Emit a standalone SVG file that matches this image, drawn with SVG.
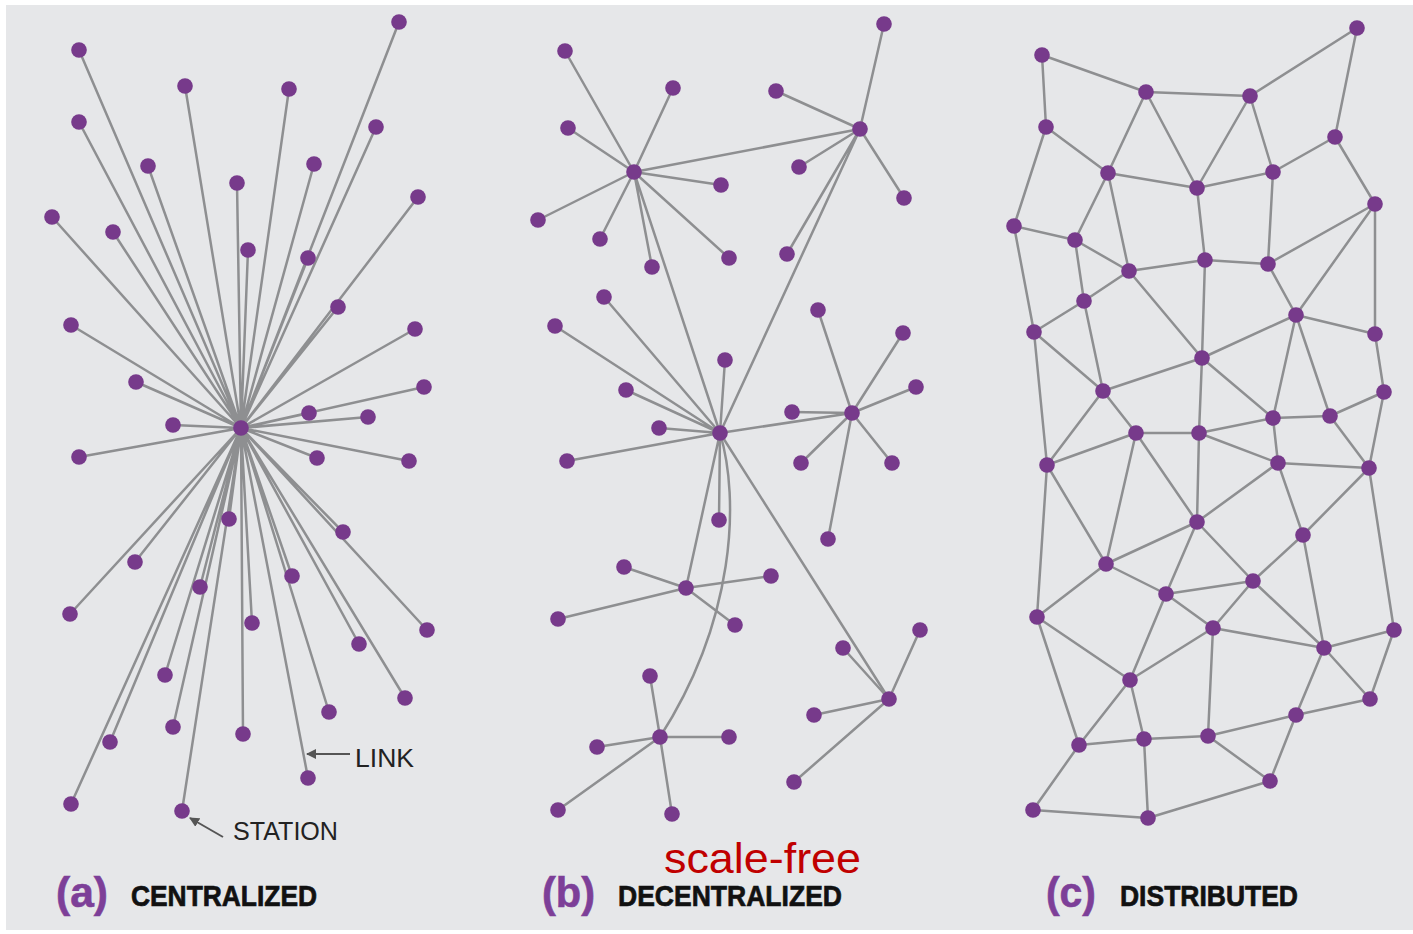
<svg xmlns="http://www.w3.org/2000/svg" width="1413" height="934" viewBox="0 0 1413 934">
<defs>
<style>
.e{stroke:#8e8f91;stroke-width:2.5;fill:none}
.n{fill:#773a8b}
.ann{font-family:"Liberation Sans",Arial,sans-serif;font-size:25px;fill:#222}
.lab{font-family:"Liberation Sans",Arial,sans-serif;font-weight:bold;font-size:30px;fill:#111;stroke:#111;stroke-width:0.7}
.tag{font-family:"Liberation Sans",Arial,sans-serif;font-weight:bold;font-size:42px;fill:#7d3f98;stroke:#7d3f98;stroke-width:0.6}
.sf{font-family:"Liberation Sans",Arial,sans-serif;font-size:42px;fill:#c00000}
.arr{stroke:#555;stroke-width:2;fill:none}
</style>
<marker id="ah" viewBox="0 0 10 10" refX="9" refY="5" markerWidth="5" markerHeight="5" orient="auto" markerUnits="strokeWidth">
<path d="M0,0 L10,5 L0,10 z" fill="#555"/>
</marker>
</defs>
<rect x="0" y="0" width="1413" height="934" fill="#ffffff"/>
<rect x="6" y="5" width="1407" height="925" fill="#e6e7e9"/>

<g id="connectors">
<g id="edges-a">
<path class="e" d="M241,428L79,50M241,428L185,86M241,428L289,89M241,428L399,22M241,428L79,122M241,428L376,127M241,428L148,166M241,428L314,164M241,428L237,183M241,428L418,197M241,428L52,217M241,428L113,232M241,428L248,250M241,428L308,258M241,428L338,307M241,428L71,325M241,428L415,329M241,428L136,382M241,428L424,387M241,428L309,413M241,428L368,417M241,428L173,425M241,428L79,457M241,428L317,458M241,428L409,461M241,428L229,519M241,428L343,532M241,428L135,562M241,428L292,576M241,428L200,587M241,428L70,614M241,428L427,630M241,428L359,644M241,428L252,623M241,428L165,675M241,428L405,698M241,428L329,712M241,428L173,727M241,428L243,734M241,428L110,742M241,428L308,778M241,428L71,804M241,428L182,811"/>
</g>
<g id="edges-b">
<path class="e" d="M634,172L565,51M634,172L673,88M634,172L568,128M634,172L721,185M634,172L538,220M634,172L600,239M634,172L652,267M634,172L729,258M634,172L860,129M634,172L720,433"/>
<path class="e" d="M860,129L884,24M860,129L776,91M860,129L799,167M860,129L904,198M860,129L787,254M860,129L720,433"/>
<path class="e" d="M720,433L604,297M720,433L555,326M720,433L725,360M720,433L626,390M720,433L659,428M720,433L567,461M720,433L852,413M720,433L719,520M720,433L686,588M720,433L889,699"/>
<path class="e" d="M852,413L818,310M852,413L903,333M852,413L916,387M852,413L792,412M852,413L801,463M852,413L892,463M852,413L828,539"/>
<path class="e" d="M686,588L624,567M686,588L771,576M686,588L558,619M686,588L735,625"/>
<path class="e" d="M720,433C740,500 735,620 660,737"/>
<path class="e" d="M660,737L650,676M660,737L729,737M660,737L597,747M660,737L558,810M660,737L672,814"/>
<path class="e" d="M889,699L920,630M889,699L843,648M889,699L814,715M889,699L794,782"/>
</g>
<g id="edges-c">
<path class="e" d="M1042,55L1146,92M1042,55L1046,127M1146,92L1250,96M1250,96L1357,28M1357,28L1335,137M1146,92L1108,173M1146,92L1197,188M1250,96L1197,188M1250,96L1273,172M1046,127L1108,173M1046,127L1014,226M1108,173L1197,188M1197,188L1273,172M1335,137L1273,172M1335,137L1375,204M1108,173L1075,240M1108,173L1129,271M1197,188L1205,260M1273,172L1268,264M1014,226L1075,240M1014,226L1034,332M1075,240L1129,271M1075,240L1084,301M1129,271L1205,260M1205,260L1268,264M1268,264L1375,204M1375,204L1296,315M1375,204L1375,334M1268,264L1296,315M1129,271L1084,301M1129,271L1202,358M1205,260L1202,358M1084,301L1034,332M1084,301L1103,391M1034,332L1103,391M1034,332L1047,465M1296,315L1202,358M1296,315L1375,334M1296,315L1273,418M1296,315L1330,416M1375,334L1384,392M1384,392L1330,416M1384,392L1369,468M1330,416L1369,468M1273,418L1330,416M1273,418L1278,463M1202,358L1273,418M1202,358L1103,391M1202,358L1199,433M1103,391L1136,433M1103,391L1047,465M1136,433L1199,433M1136,433L1047,465M1199,433L1273,418M1199,433L1278,463M1278,463L1369,468"/>
<path class="e" d="M1199,433L1197,522M1136,433L1106,564M1136,433L1197,522M1278,463L1197,522M1278,463L1303,535M1369,468L1303,535M1369,468L1394,630M1047,465L1106,564M1047,465L1037,617M1197,522L1106,564M1197,522L1166,594M1197,522L1253,581M1303,535L1253,581M1303,535L1324,648M1106,564L1166,594M1106,564L1037,617M1253,581L1166,594M1253,581L1213,628M1253,581L1324,648M1166,594L1213,628M1166,594L1130,680M1037,617L1130,680M1037,617L1079,745M1213,628L1130,680M1213,628L1324,648M1213,628L1208,736M1324,648L1394,630M1324,648L1370,699M1324,648L1296,715M1394,630L1370,699M1130,680L1079,745M1130,680L1144,739M1370,699L1296,715M1296,715L1208,736M1296,715L1270,781M1079,745L1144,739M1079,745L1033,810M1144,739L1208,736M1144,739L1148,818M1208,736L1270,781M1033,810L1148,818M1148,818L1270,781"/>
</g>
<line class="arr" x1="350" y1="754" x2="307" y2="754" marker-end="url(#ah)"/>
<line class="arr" x1="223" y1="837" x2="190" y2="818" marker-end="url(#ah)"/>
</g>

<g id="nodes-a">
<circle class="n" cx="241" cy="428" r="7.8"/>
<circle class="n" cx="79" cy="50" r="7.8"/><circle class="n" cx="185" cy="86" r="7.8"/><circle class="n" cx="289" cy="89" r="7.8"/><circle class="n" cx="399" cy="22" r="7.8"/><circle class="n" cx="79" cy="122" r="7.8"/><circle class="n" cx="376" cy="127" r="7.8"/><circle class="n" cx="148" cy="166" r="7.8"/><circle class="n" cx="314" cy="164" r="7.8"/><circle class="n" cx="237" cy="183" r="7.8"/><circle class="n" cx="418" cy="197" r="7.8"/><circle class="n" cx="52" cy="217" r="7.8"/><circle class="n" cx="113" cy="232" r="7.8"/><circle class="n" cx="248" cy="250" r="7.8"/><circle class="n" cx="308" cy="258" r="7.8"/><circle class="n" cx="338" cy="307" r="7.8"/><circle class="n" cx="71" cy="325" r="7.8"/><circle class="n" cx="415" cy="329" r="7.8"/><circle class="n" cx="136" cy="382" r="7.8"/><circle class="n" cx="424" cy="387" r="7.8"/><circle class="n" cx="309" cy="413" r="7.8"/><circle class="n" cx="368" cy="417" r="7.8"/><circle class="n" cx="173" cy="425" r="7.8"/><circle class="n" cx="79" cy="457" r="7.8"/><circle class="n" cx="317" cy="458" r="7.8"/><circle class="n" cx="409" cy="461" r="7.8"/><circle class="n" cx="229" cy="519" r="7.8"/><circle class="n" cx="343" cy="532" r="7.8"/><circle class="n" cx="135" cy="562" r="7.8"/><circle class="n" cx="292" cy="576" r="7.8"/><circle class="n" cx="200" cy="587" r="7.8"/><circle class="n" cx="70" cy="614" r="7.8"/><circle class="n" cx="427" cy="630" r="7.8"/><circle class="n" cx="359" cy="644" r="7.8"/><circle class="n" cx="252" cy="623" r="7.8"/><circle class="n" cx="165" cy="675" r="7.8"/><circle class="n" cx="405" cy="698" r="7.8"/><circle class="n" cx="329" cy="712" r="7.8"/><circle class="n" cx="173" cy="727" r="7.8"/><circle class="n" cx="243" cy="734" r="7.8"/><circle class="n" cx="110" cy="742" r="7.8"/><circle class="n" cx="308" cy="778" r="7.8"/><circle class="n" cx="71" cy="804" r="7.8"/><circle class="n" cx="182" cy="811" r="7.8"/>
</g>

<g id="nodes-b">
<circle class="n" cx="634" cy="172" r="7.8"/><circle class="n" cx="565" cy="51" r="7.8"/><circle class="n" cx="673" cy="88" r="7.8"/><circle class="n" cx="568" cy="128" r="7.8"/><circle class="n" cx="721" cy="185" r="7.8"/><circle class="n" cx="538" cy="220" r="7.8"/><circle class="n" cx="600" cy="239" r="7.8"/><circle class="n" cx="652" cy="267" r="7.8"/><circle class="n" cx="729" cy="258" r="7.8"/>
<circle class="n" cx="860" cy="129" r="7.8"/><circle class="n" cx="884" cy="24" r="7.8"/><circle class="n" cx="776" cy="91" r="7.8"/><circle class="n" cx="799" cy="167" r="7.8"/><circle class="n" cx="904" cy="198" r="7.8"/><circle class="n" cx="787" cy="254" r="7.8"/>
<circle class="n" cx="720" cy="433" r="7.8"/><circle class="n" cx="604" cy="297" r="7.8"/><circle class="n" cx="555" cy="326" r="7.8"/><circle class="n" cx="725" cy="360" r="7.8"/><circle class="n" cx="626" cy="390" r="7.8"/><circle class="n" cx="659" cy="428" r="7.8"/><circle class="n" cx="567" cy="461" r="7.8"/><circle class="n" cx="719" cy="520" r="7.8"/>
<circle class="n" cx="852" cy="413" r="7.8"/><circle class="n" cx="818" cy="310" r="7.8"/><circle class="n" cx="903" cy="333" r="7.8"/><circle class="n" cx="916" cy="387" r="7.8"/><circle class="n" cx="792" cy="412" r="7.8"/><circle class="n" cx="801" cy="463" r="7.8"/><circle class="n" cx="892" cy="463" r="7.8"/><circle class="n" cx="828" cy="539" r="7.8"/>
<circle class="n" cx="686" cy="588" r="7.8"/><circle class="n" cx="624" cy="567" r="7.8"/><circle class="n" cx="771" cy="576" r="7.8"/><circle class="n" cx="558" cy="619" r="7.8"/><circle class="n" cx="735" cy="625" r="7.8"/>
<circle class="n" cx="660" cy="737" r="7.8"/><circle class="n" cx="650" cy="676" r="7.8"/><circle class="n" cx="729" cy="737" r="7.8"/><circle class="n" cx="597" cy="747" r="7.8"/><circle class="n" cx="558" cy="810" r="7.8"/><circle class="n" cx="672" cy="814" r="7.8"/>
<circle class="n" cx="889" cy="699" r="7.8"/><circle class="n" cx="920" cy="630" r="7.8"/><circle class="n" cx="843" cy="648" r="7.8"/><circle class="n" cx="814" cy="715" r="7.8"/><circle class="n" cx="794" cy="782" r="7.8"/>
</g>

<g id="nodes-c">
<circle class="n" cx="1042" cy="55" r="7.8"/><circle class="n" cx="1146" cy="92" r="7.8"/><circle class="n" cx="1250" cy="96" r="7.8"/><circle class="n" cx="1357" cy="28" r="7.8"/><circle class="n" cx="1046" cy="127" r="7.8"/><circle class="n" cx="1335" cy="137" r="7.8"/><circle class="n" cx="1108" cy="173" r="7.8"/><circle class="n" cx="1197" cy="188" r="7.8"/><circle class="n" cx="1273" cy="172" r="7.8"/><circle class="n" cx="1375" cy="204" r="7.8"/><circle class="n" cx="1014" cy="226" r="7.8"/><circle class="n" cx="1075" cy="240" r="7.8"/><circle class="n" cx="1129" cy="271" r="7.8"/><circle class="n" cx="1205" cy="260" r="7.8"/><circle class="n" cx="1268" cy="264" r="7.8"/><circle class="n" cx="1084" cy="301" r="7.8"/><circle class="n" cx="1034" cy="332" r="7.8"/><circle class="n" cx="1296" cy="315" r="7.8"/><circle class="n" cx="1375" cy="334" r="7.8"/><circle class="n" cx="1202" cy="358" r="7.8"/><circle class="n" cx="1103" cy="391" r="7.8"/><circle class="n" cx="1384" cy="392" r="7.8"/><circle class="n" cx="1273" cy="418" r="7.8"/><circle class="n" cx="1330" cy="416" r="7.8"/><circle class="n" cx="1136" cy="433" r="7.8"/><circle class="n" cx="1199" cy="433" r="7.8"/><circle class="n" cx="1047" cy="465" r="7.8"/><circle class="n" cx="1278" cy="463" r="7.8"/><circle class="n" cx="1369" cy="468" r="7.8"/><circle class="n" cx="1197" cy="522" r="7.8"/><circle class="n" cx="1303" cy="535" r="7.8"/><circle class="n" cx="1106" cy="564" r="7.8"/><circle class="n" cx="1253" cy="581" r="7.8"/><circle class="n" cx="1166" cy="594" r="7.8"/><circle class="n" cx="1037" cy="617" r="7.8"/><circle class="n" cx="1213" cy="628" r="7.8"/><circle class="n" cx="1324" cy="648" r="7.8"/><circle class="n" cx="1394" cy="630" r="7.8"/><circle class="n" cx="1130" cy="680" r="7.8"/><circle class="n" cx="1370" cy="699" r="7.8"/><circle class="n" cx="1296" cy="715" r="7.8"/><circle class="n" cx="1079" cy="745" r="7.8"/><circle class="n" cx="1144" cy="739" r="7.8"/><circle class="n" cx="1208" cy="736" r="7.8"/><circle class="n" cx="1270" cy="781" r="7.8"/><circle class="n" cx="1033" cy="810" r="7.8"/><circle class="n" cx="1148" cy="818" r="7.8"/>
</g>

<g id="labels">
<text class="ann" x="355" y="767" textLength="59" lengthAdjust="spacingAndGlyphs">LINK</text>
<text class="ann" x="233" y="840" textLength="105" lengthAdjust="spacingAndGlyphs">STATION</text>
<text class="tag" x="56" y="907" textLength="52" lengthAdjust="spacingAndGlyphs">(a)</text>
<text class="lab" x="131" y="906" textLength="186" lengthAdjust="spacingAndGlyphs">CENTRALIZED</text>
<text class="tag" x="542" y="907" textLength="53" lengthAdjust="spacingAndGlyphs">(b)</text>
<text class="lab" x="618" y="906" textLength="224" lengthAdjust="spacingAndGlyphs">DECENTRALIZED</text>
<text class="sf" x="664" y="873" textLength="197" lengthAdjust="spacingAndGlyphs">scale-free</text>
<text class="tag" x="1046" y="907" textLength="50" lengthAdjust="spacingAndGlyphs">(c)</text>
<text class="lab" x="1120" y="906" textLength="178" lengthAdjust="spacingAndGlyphs">DISTRIBUTED</text>
</g>
</svg>
